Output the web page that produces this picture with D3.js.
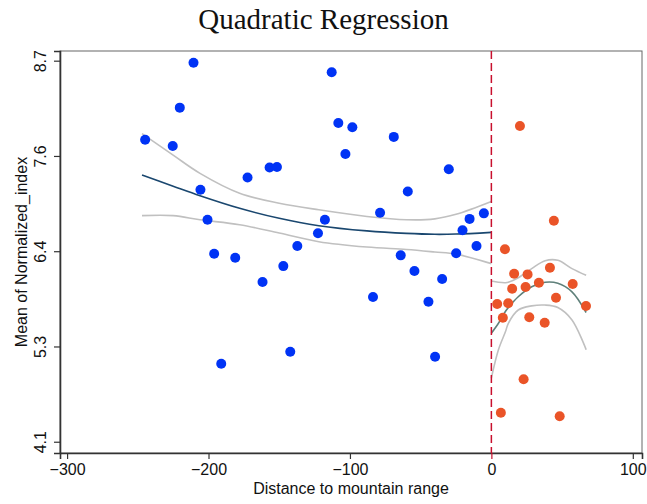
<!DOCTYPE html>
<html>
<head>
<meta charset="utf-8">
<script src="https://cdn.jsdelivr.net/npm/d3@7"></script>
<style>
  body { margin: 0; background: #fff; }
  text { font-family: "Liberation Sans", Arial, sans-serif; }
</style>
</head>
<body>
<div id="chart"></div>
<script>
// bin means left of the mountain range (distance < 0)
const leftX = [-210.6, -220.3, -244.8, -225.3, -172.4, -205.7, -200.7, -112.9, -108.2, -98.3,
  -69.0, -103.2, -156.8, -151.6, -30.1, -59.1, -78.7, -117.7, -122.6, -15.4,
  -5.3, -20.4, -137.2, -147.1, -161.8, -142.2, -64.1, -54.4, -34.8, -83.7,
  -44.5, -39.8, -24.9, -10.5, -196.0, -181.1, -191.0];
const leftY = [8.676, 8.133, 7.746, 7.67, 7.29, 7.143, 6.78, 8.56, 7.948, 7.896,
  7.78, 7.574, 7.41, 7.417, 7.39, 7.12, 6.865, 6.78, 6.616, 6.79,
  6.857, 6.652, 6.463, 6.22, 6.028, 5.187, 6.35, 6.161, 6.064, 5.847,
  5.79, 5.126, 6.375, 6.463, 6.37, 6.322, 5.042];

// bin means right of it (distance > 0)
const rightX = [20.2, 44.2, 9.6, 16.1, 25.6, 41.4, 14.7, 24.2, 33.6, 57.5,
  4.1, 11.9, 45.7, 66.9, 8.1, 26.8, 37.7, 22.8, 6.7, 48.3];
const rightY = [7.912, 6.768, 6.423, 6.128, 6.12, 6.2, 5.947, 5.968, 6.02, 6.004,
  5.763, 5.771, 5.839, 5.738, 5.597, 5.602, 5.537, 4.854, 4.45, 4.407];

// quadratic fit and 95% CI
const leftFitX  = [-247, -225, -206, -178, -150, -122, -88, -60, -40, -25, 0];
const leftFit   = [7.32, 7.185, 7.07, 6.918, 6.797, 6.708, 6.645, 6.615, 6.604, 6.607, 6.628];
const leftUpper = [7.82, 7.56, 7.34, 7.10, 6.98, 6.90, 6.82, 6.78, 6.79, 6.845, 7.00];
const leftLower = [6.83, 6.83, 6.78, 6.72, 6.62, 6.515, 6.45, 6.42, 6.39, 6.365, 6.25];

const rightFitX  = [0, 5, 10, 12, 19, 28.5, 38, 47, 57, 67];
const rightFit   = [5.41, 5.53, 5.675, 5.72, 5.85, 5.97, 6.025, 6.013, 5.91, 5.66];
const rightUpper = [6.04, 6.025, 6.02, 6.025, 6.08, 6.19, 6.285, 6.29, 6.19, 6.11];
const rightLower = [4.87, 5.21, 5.43, 5.53, 5.69, 5.74, 5.75, 5.72, 5.57, 5.21];

const xTicks = [-300, -200, -100, 0, 100];
const yTicks = [4.1, 5.25, 6.4, 7.55, 8.7];

const W = 647, H = 504;
const plot = { left: 60, right: 642, top: 51, bottom: 453 };

const svg = d3.select("#chart").append("svg")
  .attr("width", W).attr("height", H);

const x = d3.scaleLinear().domain([-305, 106.5]).range([plot.left, plot.right]);
const y = d3.scaleLinear().domain([3.964, 8.817]).range([plot.bottom, plot.top]);

// frame
svg.append("rect")
  .attr("x", plot.left).attr("y", plot.top)
  .attr("width", plot.right - plot.left).attr("height", plot.bottom - plot.top)
  .attr("fill", "none").attr("stroke", "#666").attr("stroke-width", 1);

// axes
const xAxis = svg.append("g")
  .attr("transform", `translate(0,${plot.bottom})`)
  .call(d3.axisBottom(x).tickValues(xTicks).tickSize(6).tickPadding(5).tickFormat(d3.format("d")));
const yAxis = svg.append("g")
  .attr("transform", `translate(${plot.left},0)`)
  .call(d3.axisLeft(y).tickValues(yTicks).tickSize(6).tickFormat(d => d3.format(".1f")(d + 1e-9)));

[xAxis, yAxis].forEach(g => {
  g.select(".domain").attr("stroke", "#333").attr("stroke-width", 1.6);
  g.selectAll(".tick line").attr("stroke", "#333").attr("stroke-width", 1.2);
  g.selectAll(".tick text").attr("fill", "#111").style("font-size", "16px")
    .style("font-family", "'Liberation Sans', Arial, sans-serif");
});
xAxis.selectAll(".tick").filter(d => d === 0).select("line").attr("stroke", "#c8102e");
yAxis.selectAll(".tick text")
  .attr("x", null).attr("dy", null)
  .attr("text-anchor", "middle")
  .attr("transform", "translate(-14,0) rotate(-90)");

// fitted lines
const curve = d3.line().x(d => x(d[0])).y(d => y(d[1])).curve(d3.curveCatmullRom.alpha(0.5));
const fits = [
  { xs: leftFitX, fit: leftFit, up: leftUpper, lo: leftLower, color: "#1a476f" },
  { xs: rightFitX, fit: rightFit, up: rightUpper, lo: rightLower, color: "#5f807a" }
];
fits.forEach(f => {
  [f.up, f.lo].forEach(band => {
    svg.append("path").datum(d3.zip(f.xs, band)).attr("d", curve)
      .attr("fill", "none").attr("stroke", "#c0c0c0").attr("stroke-width", 1.6);
  });
  svg.append("path").datum(d3.zip(f.xs, f.fit)).attr("d", curve)
    .attr("fill", "none").attr("stroke", f.color).attr("stroke-width", 1.6);
});

// threshold
svg.append("line")
  .attr("x1", x(0)).attr("x2", x(0)).attr("y1", plot.top).attr("y2", plot.bottom)
  .attr("stroke", "#c8102e").attr("stroke-width", 1.5).attr("stroke-dasharray", "8,4");

// points
svg.append("g").selectAll("circle").data(d3.zip(leftX, leftY)).join("circle")
  .attr("cx", d => x(d[0])).attr("cy", d => y(d[1])).attr("r", 5)
  .attr("fill", "#0033f5");
svg.append("g").selectAll("circle").data(d3.zip(rightX, rightY)).join("circle")
  .attr("cx", d => x(d[0])).attr("cy", d => y(d[1])).attr("r", 5)
  .attr("fill", "#ea5428");

// titles
svg.append("text")
  .attr("x", W / 2).attr("y", 29).attr("text-anchor", "middle")
  .style("font-family", "'Liberation Serif', 'Times New Roman', serif")
  .style("font-size", "29px").attr("fill", "#111")
  .text("Quadratic Regression");
svg.append("text")
  .attr("x", (plot.left + plot.right) / 2).attr("y", 494).attr("text-anchor", "middle")
  .style("font-size", "16px").attr("fill", "#111")
  .text("Distance to mountain range");
svg.append("text")
  .attr("transform", `translate(27,${(plot.top + plot.bottom) / 2}) rotate(-90)`)
  .attr("text-anchor", "middle")
  .style("font-size", "16px").attr("fill", "#111")
  .text("Mean of Normalized_index");
</script>
</body>
</html>
